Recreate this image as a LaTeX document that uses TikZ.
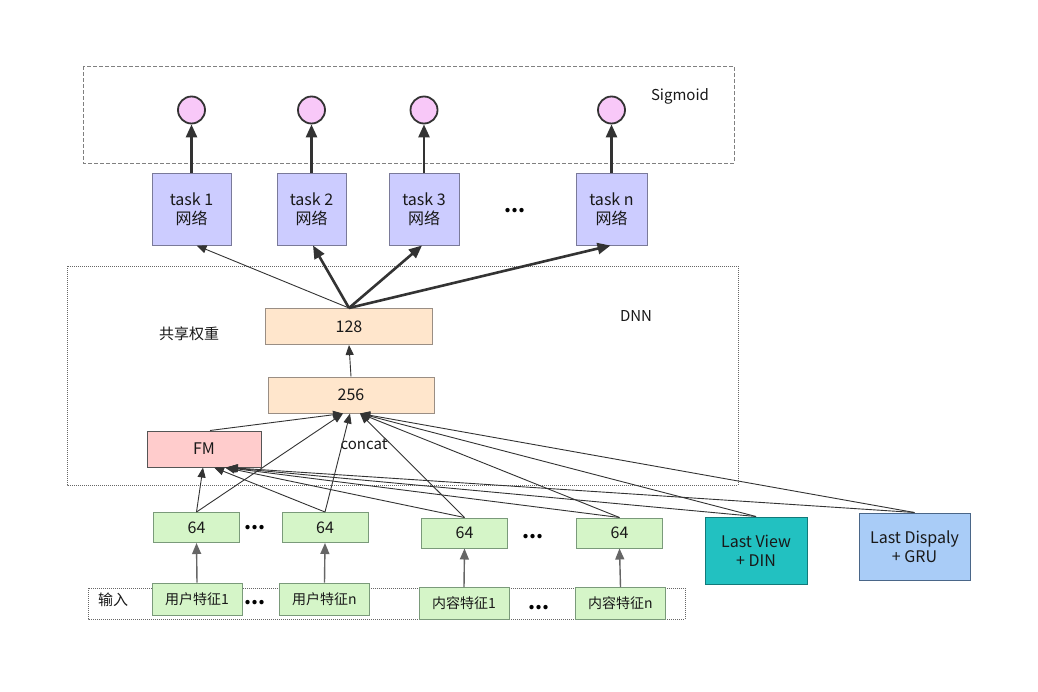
\documentclass[tikz,border=0pt]{standalone}
\usepackage{fontspec}
\setmainfont{Noto Sans CJK SC}
\usetikzlibrary{arrows.meta}
\definecolor{taskfill}{HTML}{CCCCFF}
\definecolor{taskdraw}{HTML}{7A7A99}
\definecolor{sigfill}{HTML}{F8C8F8}
\definecolor{peach}{HTML}{FFE6CC}
\definecolor{peachdraw}{HTML}{9A8E84}
\definecolor{fmfill}{HTML}{FFCCCC}
\definecolor{fmdraw}{HTML}{555555}
\definecolor{greenfill}{HTML}{D5F5C8}
\definecolor{greendraw}{HTML}{7A9A7A}
\definecolor{lvfill}{HTML}{22C1C1}
\definecolor{lvdraw}{HTML}{127A7A}
\definecolor{ldfill}{HTML}{A9CCF7}
\definecolor{lddraw}{HTML}{4A6688}
\definecolor{ink}{HTML}{333333}
\begin{document}
\begin{tikzpicture}[x=1pt,y=-1pt,
  font=\fontsize{15}{19}\selectfont,
  box/.style={draw, line width=1pt, inner sep=0pt, align=center, text=black!90},
  taskbox/.style={box, fill=taskfill, draw=taskdraw, minimum height=72pt, font=\fontsize{16}{19}\selectfont},
  sig/.style={circle, draw=ink, line width=1.8pt, fill=sigfill, minimum size=27pt, inner sep=0pt},
  layerbox/.style={box, fill=peach, draw=peachdraw, minimum width=167pt, minimum height=36pt, font=\fontsize{16}{19}\selectfont},
  greenbox/.style={box, fill=greenfill, draw=greendraw, minimum width=86pt, minimum height=30pt, font=\fontsize{16}{19}\selectfont},
  inbox/.style={box, fill=greenfill, draw=greendraw, minimum width=90pt, minimum height=32pt, font=\fontsize{14}{16}\selectfont},
  lastbox/.style={box, minimum height=67pt, font=\fontsize{16}{19}\selectfont},
  thinarr/.style={draw=ink, line width=0.9pt, -{Triangle[length=10pt,width=8pt]}},
  thickarr/.style={draw=ink, line width=2.6pt, -{Triangle[length=13pt,width=11pt]}},
  feedarr/.style={draw=black!60, line width=1.4pt, -{Triangle[length=11pt,width=9pt]}},
  label/.style={inner sep=0pt, text=black!90},
  dots/.style={inner sep=0pt, font=\fontsize{20}{22}\selectfont\bfseries}
]
\useasboundingbox[fill=white] (0,0) rectangle (1038,691);

% frames
\draw[draw=black!50, line width=1pt, dash pattern=on 4pt off 2pt] (83,66) rectangle (734,163);
\draw[draw=black!60, line width=0.8pt, dash pattern=on 1pt off 1pt] (67,266) rectangle (738,485);
\draw[draw=black!60, line width=0.8pt, dash pattern=on 1pt off 1pt] (88,588) rectangle (685,619);

% labels
\node[label] (sigl) at (680,96) {Sigmoid};
\node[label] (dnnl) at (636,316) {DNN};
\node[label] (gxl) at (189,334) {共享权重};
\node[label] (inl) at (113,600) {输入};

% sigmoid outputs
\node[sig] (s1) at (191.5,110) {};
\node[sig] (s2) at (311.5,110) {};
\node[sig] (s3) at (424,110) {};
\node[sig] (sn) at (611.5,110) {};

% task towers
\node[taskbox, minimum width=79pt] (task1) at (191.5,209) {task 1\\网络};
\node[taskbox, minimum width=69pt] (task2) at (311.5,209) {task 2\\网络};
\node[taskbox, minimum width=70pt] (task3) at (424,209) {task 3\\网络};
\node[taskbox, minimum width=71pt] (taskn) at (611.5,209) {task n\\网络};
\node[dots] (tdots) at (515,211) {...};

% shared layers
\node[layerbox] (n128) at (349,326.5) {128};
\node[layerbox, minimum width=166pt] (n256) at (351,395) {256};
\node[box, fill=fmfill, draw=fmdraw, minimum width=114pt, minimum height=36pt, font=\fontsize{16}{19}\selectfont] (fm) at (204,449) {FM};
\node[label] (concat) at (364,444) {concat};

% embeddings
\node[greenbox] (u1) at (196.5,527.5) {64};
\node[greenbox] (un) at (325,527.5) {64};
\node[greenbox] (c1) at (464.5,533) {64};
\node[greenbox] (cn) at (619.5,533) {64};
\node[dots] (d1) at (255,528) {...};
\node[dots] (d2) at (533,537) {...};

% inputs
\node[inbox] (iu1) at (197,599) {用户特征1};
\node[inbox] (iun) at (324.5,599) {用户特征n};
\node[inbox] (ic1) at (464,603.5) {内容特征1};
\node[inbox] (icn) at (620.5,603.5) {内容特征n};
\node[dots] (d3) at (255,603) {...};
\node[dots] (d4) at (539,608) {...};

% sequence features
\node[lastbox, fill=lvfill, draw=lvdraw, minimum width=102pt] (lv) at (756,550.5) {Last View\\+ DIN};
\node[lastbox, fill=ldfill, draw=lddraw, minimum width=111pt] (ld) at (914.5,546.5) {Last Dispaly\\+ GRU};

% task -> sigmoid
\draw[thickarr] (task1.north) -- (s1.south);
\draw[thickarr] (task2.north) -- (s2.south);
\draw[thickarr] (task3.north) -- (s3.south);
\draw[thickarr] (taskn.north) -- (sn.south);

% 128 -> tasks
\draw[thinarr] (n128.north) -- ([xshift=5pt]task1.south);
\draw[thickarr] (n128.north) -- ([xshift=1.5pt]task2.south);
\draw[thickarr] (n128.north) -- ([xshift=-2pt]task3.south);
\draw[thickarr] (n128.north) -- ([xshift=-1pt]taskn.south);

% 256 -> 128
\draw[thinarr] (n256.north) -- (n128.south);

% FM -> 256
\draw[thinarr] ([xshift=6pt]fm.north) -- ([xshift=-8pt]n256.south);

% embeddings -> 256 and FM
\draw[thinarr] (u1.north) -- ([xshift=-8pt]n256.south);
\draw[thinarr] (un.north) -- ([xshift=-1pt]n256.south);
\draw[thinarr] (c1.north) -- ([xshift=9pt]n256.south);
\draw[thinarr] (cn.north) -- ([xshift=9pt]n256.south);
\draw[thinarr] (lv.north) -- ([xshift=9pt]n256.south);
\draw[thinarr] (ld.north) -- ([xshift=9pt]n256.south);

\draw[thinarr] (u1.north) -- ([xshift=-1pt]fm.south);
\draw[thinarr] (un.north) -- ([xshift=10pt]fm.south);
\draw[thinarr] (c1.north) -- ([xshift=21pt]fm.south);
\draw[thinarr] (cn.north) -- ([xshift=22pt]fm.south);
\draw[thinarr] (lv.north) -- ([xshift=23pt]fm.south);
\draw[thinarr] (ld.north) -- ([xshift=24pt]fm.south);

% inputs -> embeddings
\draw[feedarr] (iu1.north) -- (u1.south);
\draw[feedarr] (iun.north) -- (un.south);
\draw[feedarr] (ic1.north) -- (c1.south);
\draw[feedarr] (icn.north) -- (cn.south);
\end{tikzpicture}
\end{document}
